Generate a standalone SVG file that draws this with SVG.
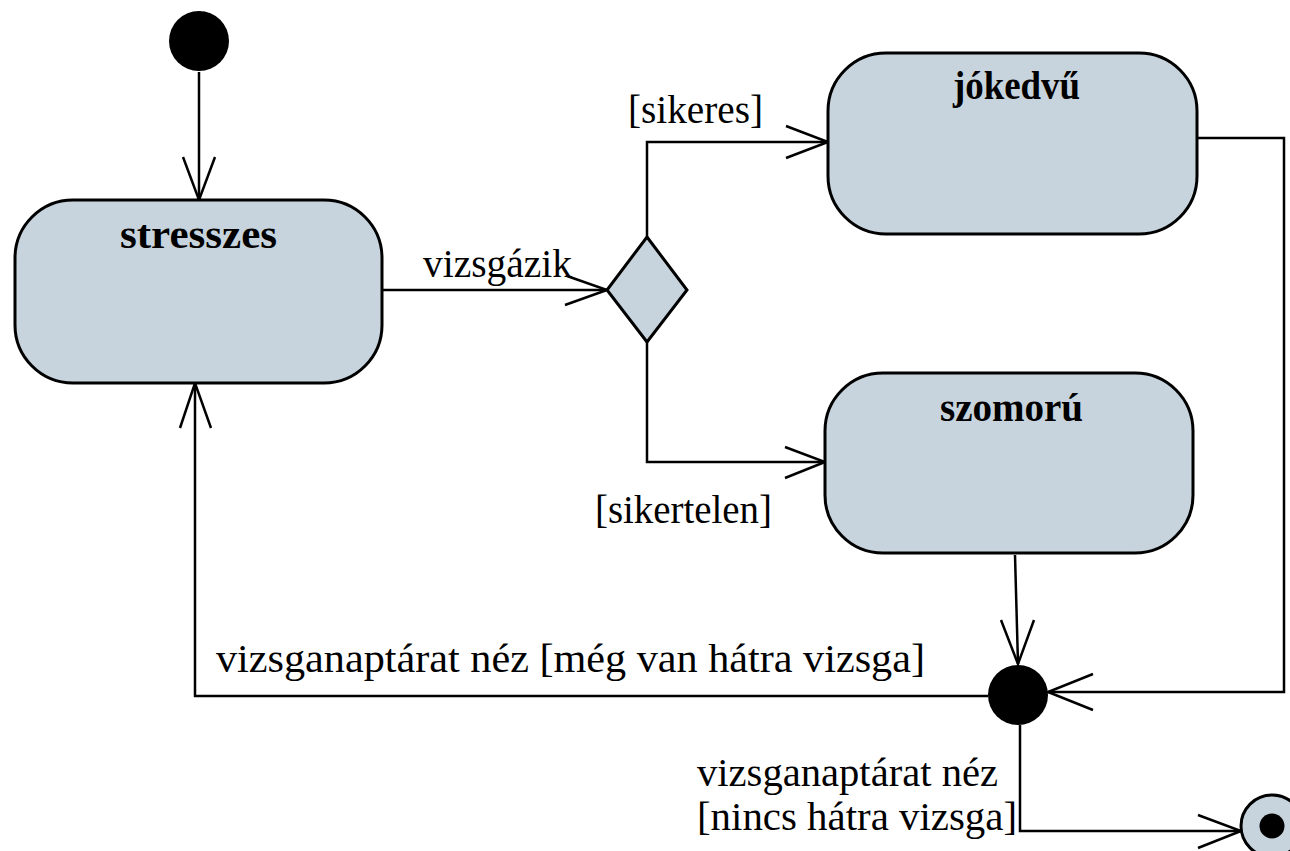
<svg xmlns="http://www.w3.org/2000/svg" width="1290" height="851" viewBox="0 0 1290 851">
<style>
.state{fill:#c7d4dd;stroke:#000;stroke-width:3}
.name{font-family:"Liberation Serif","Times New Roman",serif;font-weight:bold;font-size:40px;fill:#000}
.lbl{font-family:"Liberation Serif","Times New Roman",serif;font-size:40px;fill:#000}
.edge{fill:none;stroke:#000;stroke-width:2.5}
</style>
<rect width="1290" height="851" fill="#fff"/>
<g id="connectors">
  <path class="edge" d="M199,72 L199,200"/>
  <path class="edge" d="M183,157 L199,200 L215,157"/>
  <path class="edge" d="M382,290 L607,290"/>
  <path class="edge" d="M567,276 L607,290 L565,305"/>
  <path class="edge" d="M647,237 L647,142 L828,142"/>
  <path class="edge" d="M786,126 L828,142 L786,158"/>
  <path class="edge" d="M647,342 L647,462 L825,462"/>
  <path class="edge" d="M785,447 L825,462 L785,478"/>
  <path class="edge" d="M1197,138 L1284,138 L1284,692 L1048,692"/>
  <path class="edge" d="M1093,674 L1048,692 L1093,710"/>
  <path class="edge" d="M1015,555 L1018,664"/>
  <path class="edge" d="M1001,620 L1018,664 L1034,620"/>
  <path class="edge" d="M988,696 L195,696 L195,383"/>
  <path class="edge" d="M180,428 L195,383 L211,428"/>
  <path class="edge" d="M1020,725 L1020,831 L1241,831"/>
  <path class="edge" d="M1198,815 L1241,831 L1198,848"/>
  <text class="lbl" x="423" y="277" textLength="149" lengthAdjust="spacingAndGlyphs">vizsgázik</text>
  <text class="lbl" x="628" y="123" textLength="135" lengthAdjust="spacingAndGlyphs">[sikeres]</text>
  <text class="lbl" x="595" y="523" textLength="177" lengthAdjust="spacingAndGlyphs">[sikertelen]</text>
  <text class="lbl" x="216" y="672" textLength="709" lengthAdjust="spacingAndGlyphs">vizsganaptárat néz [még van hátra vizsga]</text>
  <text class="lbl" x="697" y="786" textLength="301" lengthAdjust="spacingAndGlyphs">vizsganaptárat néz</text>
  <text class="lbl" x="697" y="830" textLength="320" lengthAdjust="spacingAndGlyphs">[nincs hátra vizsga]</text>
</g>
<g id="initial">
  <circle cx="199" cy="41" r="30" fill="#000"/>
</g>
<g id="stresszes">
  <rect class="state" x="15" y="200" width="367" height="183" rx="58" ry="58"/>
  <text class="name" x="120" y="248" textLength="157" lengthAdjust="spacingAndGlyphs">stresszes</text>
</g>
<g id="decision">
  <polygon class="state" points="647,237 687,290 647,342 607,290"/>
</g>
<g id="jokedvu">
  <rect class="state" x="828" y="53" width="369" height="181" rx="58" ry="58"/>
  <text class="name" x="953" y="99" textLength="127" lengthAdjust="spacingAndGlyphs">jókedvű</text>
</g>
<g id="szomoru">
  <rect class="state" x="825" y="373" width="368" height="180" rx="58" ry="58"/>
  <text class="name" x="940" y="421" textLength="143" lengthAdjust="spacingAndGlyphs">szomorú</text>
</g>
<g id="join">
  <circle cx="1018" cy="695" r="30" fill="#000"/>
</g>
<g id="final">
  <circle cx="1272" cy="826" r="31" fill="#c7d4dd" stroke="#000" stroke-width="3"/>
  <circle cx="1272" cy="826" r="12.5" fill="#000"/>
</g>
</svg>
